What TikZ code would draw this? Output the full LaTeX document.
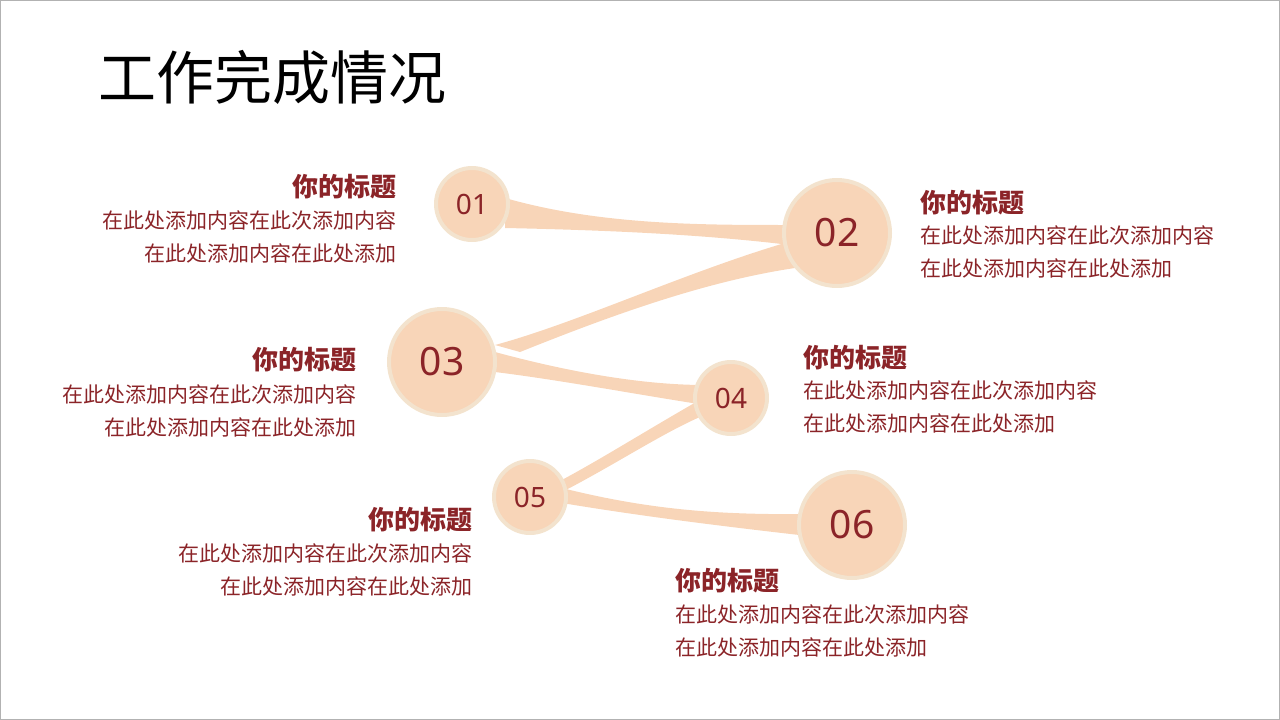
\documentclass[tikz,border=0pt]{standalone}
\usepackage{fontspec}
\setmainfont{Noto Sans}
\newfontfamily\cjk{Noto Sans CJK SC}
\definecolor{rib}{HTML}{F8D5B8}
\definecolor{ring}{HTML}{F3E3CE}
\definecolor{dred}{HTML}{8B2428}
\begin{document}
\begin{tikzpicture}[x=1pt,y=-1pt,
  circ/.style={circle,fill=rib,draw=ring,line width=4pt,text=dred,inner sep=0pt},
  head/.style={font=\cjk\fontsize{26}{28}\selectfont\bfseries,text=dred,inner sep=0pt},
  body/.style={font=\cjk\fontsize{21}{33}\selectfont,text=dred,inner sep=0pt}]
\draw[gray!60,line width=1pt] (0.5,0.5) rectangle (1279.5,719.5);
\useasboundingbox (0,0) rectangle (1280,720);
\node[anchor=west,inner sep=0pt,font=\cjk\fontsize{58}{60}\selectfont] (title) at (98,77) {工作完成情况};
% ribbons
\fill[rib] (505,198) .. controls (600,225) and (700,225) .. (790,225) -- (790,245) .. controls (700,234) and (600,230) .. (505,228) -- cycle;
\fill[rib] (795,240) .. controls (690,270) and (580,322) .. (495,345) -- (520,352) .. controls (600,320) and (700,282) .. (795,268) -- cycle;
\fill[rib] (495,352) .. controls (580,375) and (650,385) .. (705,385) -- (705,405) .. controls (640,395) and (560,380) .. (495,372) -- cycle;
\fill[rib] (712,393) .. controls (650,428) and (600,460) .. (558,482) -- (562,492) .. controls (620,462) and (670,428) .. (712,412) -- cycle;
\fill[rib] (562,488) .. controls (650,510) and (720,515) .. (808,514) -- (808,536) .. controls (720,526) and (640,516) .. (562,503) -- cycle;
% circles
\node[circ,minimum size=72pt,font=\fontsize{28}{30}\selectfont\bfseries] (c1) at (472,204) {01};
\node[circ,minimum size=106pt,font=\fontsize{39}{40}\selectfont\bfseries] (c2) at (837,233) {02};
\node[circ,minimum size=106pt,font=\fontsize{39}{40}\selectfont\bfseries] (c3) at (442,362) {03};
\node[circ,minimum size=72pt,font=\fontsize{28}{30}\selectfont\bfseries] (c4) at (731,398) {04};
\node[circ,minimum size=72pt,font=\fontsize{28}{30}\selectfont\bfseries] (c5) at (530,497) {05};
\node[circ,minimum size=106pt,font=\fontsize{39}{40}\selectfont\bfseries] (c6) at (852,525) {06};
% texts
\node[head,anchor=east] (h1) at (397,187) {你的标题};
\node[body,anchor=north east,align=right] (b1) at (397,211) {在此处添加内容在此次添加内容\\在此处添加内容在此处添加};
\node[head,anchor=west] (h2) at (920,203) {你的标题};
\node[body,anchor=north west,align=left] (b2) at (920,226) {在此处添加内容在此次添加内容\\在此处添加内容在此处添加};
\node[head,anchor=east] (h3) at (357,360) {你的标题};
\node[body,anchor=north east,align=right] (b3) at (357,385) {在此处添加内容在此次添加内容\\在此处添加内容在此处添加};
\node[head,anchor=west] (h4) at (803,358) {你的标题};
\node[body,anchor=north west,align=left] (b4) at (803,381) {在此处添加内容在此次添加内容\\在此处添加内容在此处添加};
\node[head,anchor=east] (h5) at (473,520) {你的标题};
\node[body,anchor=north east,align=right] (b5) at (473,544) {在此处添加内容在此次添加内容\\在此处添加内容在此处添加};
\node[head,anchor=west] (h6) at (675,581) {你的标题};
\node[body,anchor=north west,align=left] (b6) at (675,605) {在此处添加内容在此次添加内容\\在此处添加内容在此处添加};
\end{tikzpicture}
\end{document}
